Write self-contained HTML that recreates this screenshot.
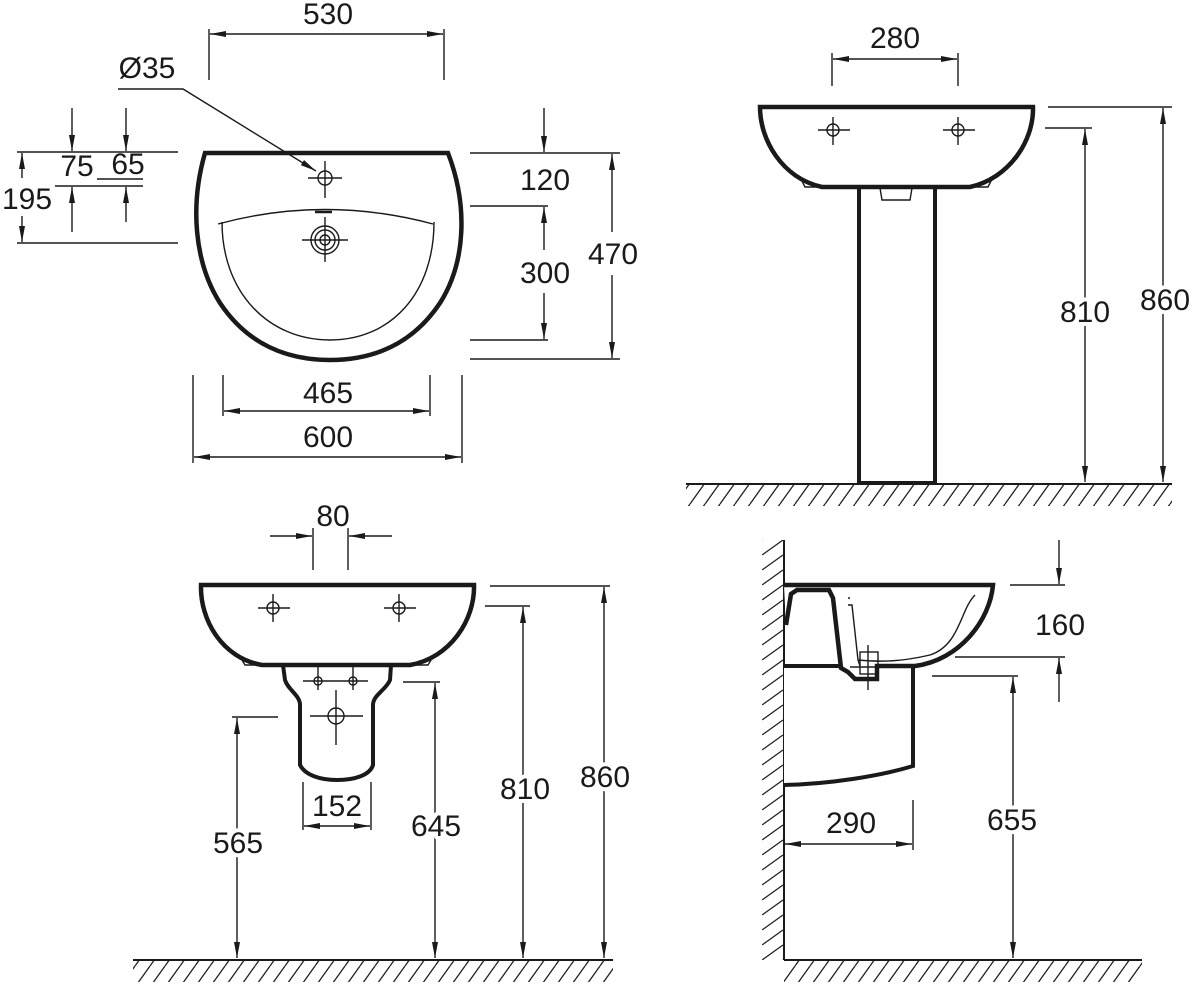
<!DOCTYPE html>
<html><head><meta charset="utf-8"><style>
html,body{margin:0;padding:0;background:#fff;}
svg{display:block;}
text{font-family:"Liberation Sans",sans-serif;font-size:30px;fill:#1a1a1a;text-anchor:middle;paint-order:stroke;stroke:#fff;stroke-width:8px;stroke-linejoin:round;}
text.ns{stroke:none;}
</style></head><body>
<svg width="1192" height="986" viewBox="0 0 1192 986" xmlns="http://www.w3.org/2000/svg">
<defs>
<marker id="a" viewBox="0 0 16 6" refX="16" refY="3" markerWidth="16" markerHeight="6" markerUnits="userSpaceOnUse" orient="auto-start-reverse"><path d="M0,0 L16,3 L0,6 z" fill="#1a1a1a"/></marker>
<pattern id="h" patternUnits="userSpaceOnUse" width="15" height="21"><line x1="0" y1="21" x2="15" y2="0" stroke="#222" stroke-width="1.3"/><line x1="-15" y1="21" x2="0" y2="0" stroke="#222" stroke-width="1.3"/><line x1="15" y1="21" x2="30" y2="0" stroke="#222" stroke-width="1.3"/></pattern>
<pattern id="hw" patternUnits="userSpaceOnUse" width="21" height="15" x="762" y="0"><line x1="0" y1="15" x2="21" y2="0" stroke="#222" stroke-width="1.3"/><line x1="-21" y1="15" x2="0" y2="0" stroke="#222" stroke-width="1.3"/><line x1="0" y1="30" x2="21" y2="15" stroke="#222" stroke-width="1.3"/></pattern>
</defs>

<g stroke="#1a1a1a" stroke-width="1.4" fill="none">
<path d="M205,153 L448,153 C468,205 466,262 440,303 C412,345 372,360 330,360 C288,360 248,345 220,303 C194,262 190,205 205,153 Z" stroke-width="4.5" fill="#fff"/>
<path d="M218,224 Q325,195 433,224"/>
<path d="M222,222 C222,292 268,340 330,340 C392,340 434,292 434,222"/>
<line x1="315" y1="212" x2="332" y2="212" stroke-width="2.5"/>
<circle cx="325" cy="178" r="7"/><line x1="308" y1="178" x2="342" y2="178"/><line x1="325" y1="161" x2="325" y2="198"/>
<circle cx="325" cy="240" r="14"/><circle cx="325" cy="240" r="10"/><circle cx="325" cy="240" r="5"/>
<line x1="302" y1="240" x2="348" y2="240"/><line x1="325" y1="217" x2="325" y2="262"/>
<line x1="209" y1="29" x2="209" y2="80"/><line x1="444" y1="29" x2="444" y2="80"/>
<line x1="210" y1="34" x2="443" y2="34" marker-start="url(#a)" marker-end="url(#a)"/>
<polyline points="118,89 183,89 316,171" marker-end="url(#a)"/>
<line x1="17" y1="152" x2="178" y2="152"/>
<line x1="97" y1="179" x2="143" y2="179"/>
<line x1="55" y1="186" x2="143" y2="186"/>
<line x1="17" y1="243" x2="178" y2="243"/>
<line x1="72" y1="108" x2="72" y2="151" marker-end="url(#a)"/>
<line x1="72" y1="232" x2="72" y2="187" marker-end="url(#a)"/>
<line x1="126" y1="108" x2="126" y2="151" marker-end="url(#a)"/>
<line x1="126" y1="222" x2="126" y2="187" marker-end="url(#a)"/>
<line x1="22" y1="178" x2="22" y2="153" marker-end="url(#a)"/>
<line x1="22" y1="216" x2="22" y2="242" marker-end="url(#a)"/>
<line x1="470" y1="153" x2="620" y2="153"/>
<line x1="470" y1="206" x2="548" y2="206"/>
<line x1="470" y1="340" x2="548" y2="340"/>
<line x1="470" y1="359" x2="620" y2="359"/>
<line x1="544" y1="108" x2="544" y2="152" marker-end="url(#a)"/>
<line x1="544" y1="250" x2="544" y2="207" marker-end="url(#a)"/>
<line x1="544" y1="293" x2="544" y2="339" marker-end="url(#a)"/>
<line x1="612" y1="232" x2="612" y2="154" marker-end="url(#a)"/>
<line x1="612" y1="275" x2="612" y2="358" marker-end="url(#a)"/>
<line x1="223" y1="375" x2="223" y2="416"/><line x1="430" y1="375" x2="430" y2="416"/>
<line x1="224" y1="411" x2="429" y2="411" marker-start="url(#a)" marker-end="url(#a)"/>
<line x1="193" y1="375" x2="193" y2="463"/><line x1="462" y1="375" x2="462" y2="463"/>
<line x1="194" y1="457" x2="461" y2="457" marker-start="url(#a)" marker-end="url(#a)"/>

<rect x="686" y="485" width="486" height="21" fill="url(#h)" stroke="none"/>
<line x1="686" y1="484" x2="1172" y2="484" stroke-width="2"/>
<rect x="859" y="187" width="76" height="296" stroke-width="4" fill="#fff"/>
<path d="M880,188 L882,200 L910,200 L912,188"/>
<path d="M799,175 L805,187 L822,187 M994,175 L988,187 L970,187"/>
<path d="M760,107 L1033,107 C1034,140 1010,178 970,187 L822,187 C782,178 760,140 760,107 Z" stroke-width="4.5" fill="#fff"/>
<circle cx="833" cy="130" r="6"/><line x1="818" y1="130" x2="850" y2="130"/><line x1="833" y1="117" x2="833" y2="145"/>
<circle cx="958" cy="130" r="6"/><line x1="943" y1="130" x2="975" y2="130"/><line x1="958" y1="117" x2="958" y2="145"/>
<line x1="832" y1="53" x2="832" y2="86"/><line x1="958" y1="53" x2="958" y2="86"/>
<line x1="833" y1="59" x2="957" y2="59" marker-start="url(#a)" marker-end="url(#a)"/>
<line x1="1048" y1="107" x2="1172" y2="107"/>
<line x1="1045" y1="128" x2="1092" y2="128"/>
<line x1="1085" y1="129" x2="1085" y2="482" marker-start="url(#a)" marker-end="url(#a)"/>
<line x1="1163" y1="108" x2="1163" y2="482" marker-start="url(#a)" marker-end="url(#a)"/>

<rect x="133" y="961" width="480" height="21" fill="url(#h)" stroke="none"/>
<line x1="133" y1="960" x2="613" y2="960" stroke-width="2"/>
<path d="M239,655 L245,665 L262,665 M434,655 L428,665 L412,665"/>
<path d="M283,665 L285,680 C288,690 300,695 300,705 L300,765 C305,775 320,780 337,780 C355,780 370,775 373,765 L373,705 C373,695 386,690 390,680 L391,665" stroke-width="4" fill="#fff"/>
<path d="M201,585 L474,585 C475,620 450,658 410,665 L262,665 C222,658 200,620 201,585 Z" stroke-width="4.5" fill="#fff"/>
<circle cx="273" cy="608" r="6"/><line x1="258" y1="608" x2="290" y2="608"/><line x1="273" y1="594" x2="273" y2="622"/>
<circle cx="399" cy="608" r="6"/><line x1="384" y1="608" x2="416" y2="608"/><line x1="399" y1="594" x2="399" y2="622"/>
<line x1="318" y1="666" x2="318" y2="690"/><line x1="353" y1="666" x2="353" y2="690"/>
<circle cx="318" cy="681" r="4"/><circle cx="353" cy="681" r="4"/>
<line x1="303" y1="681" x2="368" y2="681"/>
<circle cx="336" cy="716" r="8"/><line x1="310" y1="716" x2="363" y2="716"/><line x1="336" y1="690" x2="336" y2="745"/>
<line x1="313" y1="528" x2="313" y2="570"/><line x1="348" y1="528" x2="348" y2="570"/>
<line x1="270" y1="536" x2="312" y2="536" marker-end="url(#a)"/>
<line x1="392" y1="536" x2="349" y2="536" marker-end="url(#a)"/>
<line x1="303" y1="782" x2="303" y2="830"/><line x1="371" y1="782" x2="371" y2="830"/>
<line x1="304" y1="826" x2="370" y2="826" marker-start="url(#a)" marker-end="url(#a)"/>
<line x1="232" y1="717" x2="278" y2="717"/>
<line x1="237" y1="958" x2="237" y2="718" marker-start="url(#a)" marker-end="url(#a)"/>
<line x1="403" y1="682" x2="440" y2="682"/>
<line x1="435" y1="958" x2="435" y2="683" marker-start="url(#a)" marker-end="url(#a)"/>
<line x1="485" y1="606" x2="530" y2="606"/>
<line x1="523" y1="958" x2="523" y2="607" marker-start="url(#a)" marker-end="url(#a)"/>
<line x1="490" y1="586" x2="610" y2="586"/>
<line x1="604" y1="958" x2="604" y2="587" marker-start="url(#a)" marker-end="url(#a)"/>

<rect x="762" y="540" width="21" height="420" fill="url(#hw)" stroke="none"/>
<line x1="784" y1="540" x2="784" y2="960" stroke-width="2"/>
<rect x="784" y="961" width="358" height="21" fill="url(#h)" stroke="none"/>
<line x1="784" y1="960" x2="1142" y2="960" stroke-width="2"/>
<path d="M784,666 L913,666 L913,766 C880,776 830,784 784,785" stroke-width="4" fill="#fff"/>
<line x1="784" y1="665" x2="850" y2="665"/>
<path d="M784,585 L993,585 C990,620 960,660 915,666 L877,666 L877,679 L855,679 L848,672 L841,668 L833,598 L829,590 L797,590 L791,594 L786,625" stroke-width="4.5" fill="#fff"/>
<path d="M848,598 L850,598 M848,605 L852,605 L858,660 L860,666 M975,595 C960,610 960,645 930,655 C900,662 880,662 858,660"/>
<rect x="860" y="652" width="18" height="22"/>
<line x1="868" y1="645" x2="868" y2="690"/><line x1="850" y1="667" x2="885" y2="667"/>
<line x1="1010" y1="585" x2="1065" y2="585"/>
<line x1="955" y1="657" x2="1065" y2="657"/>
<line x1="1059" y1="540" x2="1059" y2="584" marker-end="url(#a)"/>
<line x1="1059" y1="702" x2="1059" y2="658" marker-end="url(#a)"/>
<line x1="932" y1="676" x2="1018" y2="676"/>
<line x1="1013" y1="958" x2="1013" y2="677" marker-start="url(#a)" marker-end="url(#a)"/>
<line x1="913" y1="800" x2="913" y2="850"/>
<line x1="785" y1="844" x2="912" y2="844" marker-start="url(#a)" marker-end="url(#a)"/>
</g>

<text x="328" y="24">530</text>
<text x="147" y="78">Ø35</text>
<text class="ns" x="77" y="176">75</text>
<text class="ns" x="128" y="174">65</text>
<text x="27" y="209">195</text>
<text x="545" y="190">120</text>
<text x="545" y="283">300</text>
<text x="613" y="264">470</text>
<text x="328" y="403">465</text>
<text x="328" y="447">600</text>
<text x="895" y="48">280</text>
<text x="1085" y="322">810</text>
<text x="1165" y="310">860</text>
<text x="333" y="526">80</text>
<text x="337" y="816">152</text>
<text x="238" y="853">565</text>
<text x="436" y="836">645</text>
<text x="525" y="799">810</text>
<text x="605" y="787">860</text>
<text x="1060" y="635">160</text>
<text x="1012" y="830">655</text>
<text x="851" y="833">290</text>
</svg>
</body></html>
